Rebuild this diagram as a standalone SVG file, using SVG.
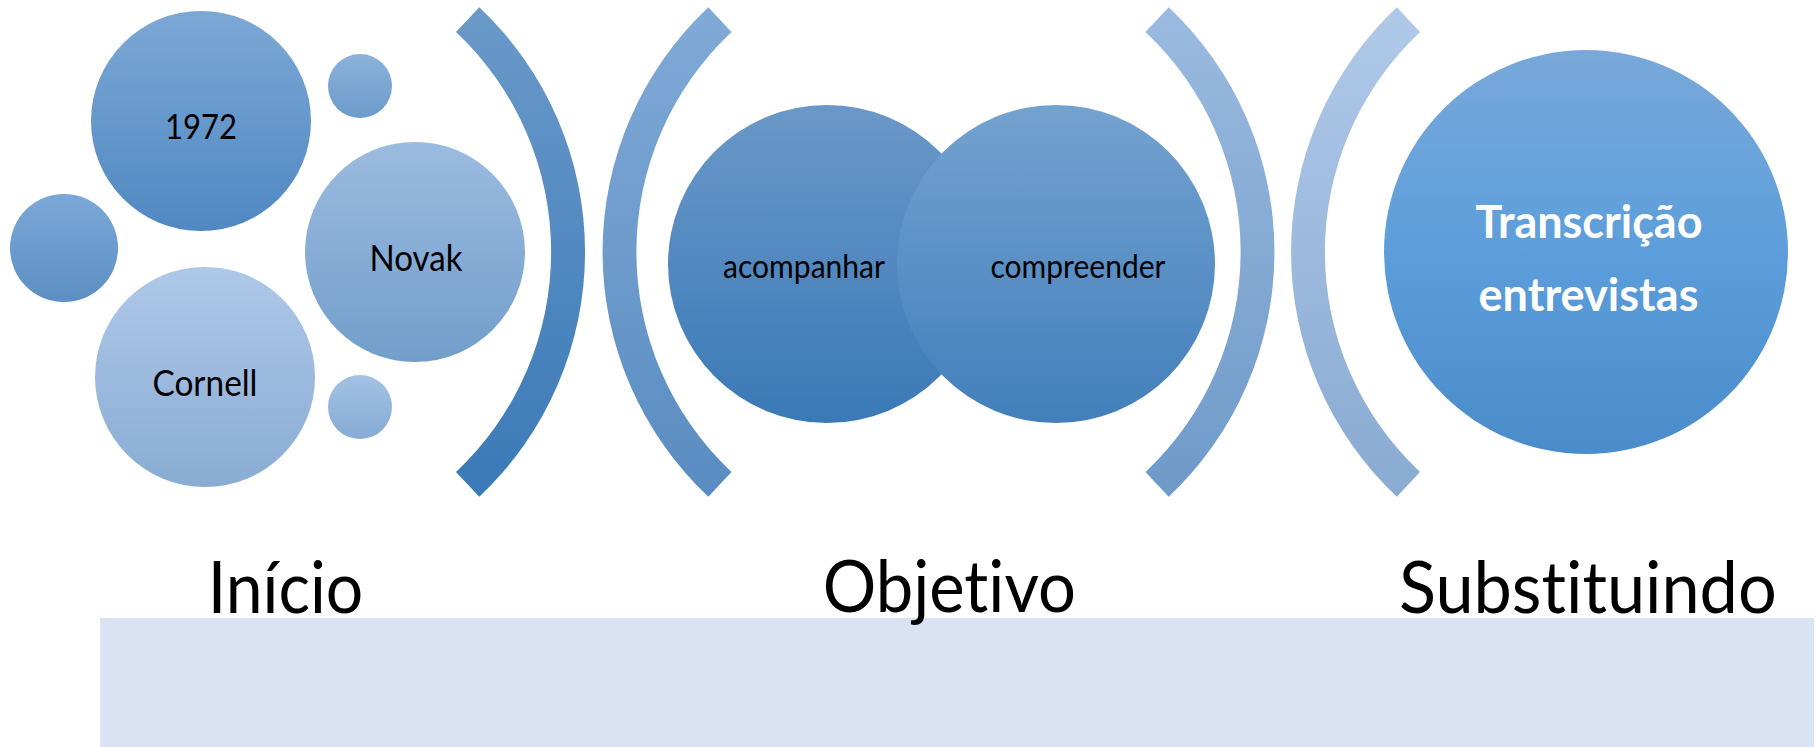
<svg xmlns="http://www.w3.org/2000/svg" width="1819" height="747" viewBox="0 0 1819 747">
<style>
text{font-variant-ligatures:none;font-feature-settings:"liga" 0,"clig" 0}
.lbl{font-family:Lato,"Liberation Sans","DejaVu Sans",sans-serif;fill:#000;text-anchor:middle}
.big{font-family:Lato,"Liberation Sans","DejaVu Sans",sans-serif;fill:#000;font-size:72px}
.wht{font-family:Lato,"Liberation Sans","DejaVu Sans",sans-serif;fill:#fff;font-weight:bold;font-size:45px;text-anchor:middle}
</style>
<defs>
<linearGradient id="g1972" x1="0" y1="0" x2="0" y2="1"><stop offset="0" stop-color="#7ca8d5"/><stop offset="1" stop-color="#5088c2"/></linearGradient>
<linearGradient id="gs1" x1="0" y1="0" x2="0" y2="1"><stop offset="0" stop-color="#8cb2da"/><stop offset="1" stop-color="#6c9bcb"/></linearGradient>
<linearGradient id="gs2" x1="0" y1="0" x2="0" y2="1"><stop offset="0" stop-color="#7ba8d8"/><stop offset="1" stop-color="#5d8fc4"/></linearGradient>
<linearGradient id="gnov" x1="0" y1="0" x2="0" y2="1"><stop offset="0" stop-color="#9cbbe0"/><stop offset="1" stop-color="#729ecb"/></linearGradient>
<linearGradient id="gcor" x1="0" y1="0" x2="0" y2="1"><stop offset="0" stop-color="#afc8e8"/><stop offset="1" stop-color="#89acd4"/></linearGradient>
<linearGradient id="gs3" x1="0" y1="0" x2="0" y2="1"><stop offset="0" stop-color="#a3c1e4"/><stop offset="1" stop-color="#86abd5"/></linearGradient>
<linearGradient id="gaco" x1="0" y1="0" x2="0" y2="1"><stop offset="0" stop-color="#6a98c8"/><stop offset="1" stop-color="#3a79b7"/></linearGradient>
<linearGradient id="gcom" x1="0" y1="0" x2="0" y2="1"><stop offset="0" stop-color="#74a2d0"/><stop offset="1" stop-color="#427fbb"/></linearGradient>
<linearGradient id="gtra" x1="0" y1="0" x2="0" y2="1"><stop offset="0" stop-color="#79a8da"/><stop offset="0.5" stop-color="#5c9edb"/><stop offset="1" stop-color="#4a8bc9"/></linearGradient>
<linearGradient id="gb1" x1="0" y1="0" x2="0" y2="1"><stop offset="0" stop-color="#6a99c9"/><stop offset="1" stop-color="#3a79b7"/></linearGradient>
<linearGradient id="gb2" x1="0" y1="0" x2="0" y2="1"><stop offset="0" stop-color="#80aad7"/><stop offset="1" stop-color="#598cc1"/></linearGradient>
<linearGradient id="gb3" x1="0" y1="0" x2="0" y2="1"><stop offset="0" stop-color="#9bbae0"/><stop offset="1" stop-color="#6e9ac8"/></linearGradient>
<linearGradient id="gb4" x1="0" y1="0" x2="0" y2="1"><stop offset="0" stop-color="#b0c9e8"/><stop offset="1" stop-color="#89aad2"/></linearGradient>
</defs>
<rect id="band" x="100" y="618" width="1714" height="129" fill="#dae3f3"/>
<g id="connectors">
<path id="bracket1" d="M 479.3 7.3 A 336 336 0 0 1 479.3 496.7 L 456 472 A 302 302 0 0 0 456 32 Z" fill="url(#gb1)"/>
<path id="bracket2" d="M 708.3 7.3 A 336 336 0 0 0 708.3 496.7 L 731.5 472 A 302 302 0 0 1 731.5 32 Z" fill="url(#gb2)"/>
<path id="bracket3" d="M 1168.7 7.3 A 336 336 0 0 1 1168.7 496.7 L 1145.5 472 A 302 302 0 0 0 1145.5 32 Z" fill="url(#gb3)"/>
<path id="bracket4" d="M 1396.8 7.3 A 336 336 0 0 0 1396.8 496.7 L 1420 472 A 302 302 0 0 1 1420 32 Z" fill="url(#gb4)"/>
</g>
<g id="n1972"><circle cx="201" cy="121" r="110" fill="url(#g1972)"/><text class="lbl" x="201" y="139" font-size="35" textLength="72" lengthAdjust="spacingAndGlyphs">1972</text></g>
<g id="small1"><circle cx="360" cy="86" r="32" fill="url(#gs1)"/></g>
<g id="small2"><circle cx="64" cy="248" r="54" fill="url(#gs2)"/></g>
<g id="novak"><circle cx="415" cy="252" r="110" fill="url(#gnov)"/><text class="lbl" x="416" y="271" font-size="36" textLength="93" lengthAdjust="spacingAndGlyphs">Novak</text></g>
<g id="cornell"><circle cx="205" cy="377" r="110" fill="url(#gcor)"/><text class="lbl" x="205" y="396" font-size="36" textLength="105" lengthAdjust="spacingAndGlyphs">Cornell</text></g>
<g id="small3"><circle cx="360" cy="407" r="32" fill="url(#gs3)"/></g>
<g id="acompanhar"><circle cx="827" cy="264" r="159" fill="url(#gaco)"/><text class="lbl" x="804" y="278" font-size="32" textLength="162" lengthAdjust="spacingAndGlyphs">acompanhar</text></g>
<g id="compreender"><circle cx="1056" cy="264" r="159" fill="url(#gcom)"/><text class="lbl" x="1078" y="278" font-size="32" textLength="175" lengthAdjust="spacingAndGlyphs">compreender</text></g>
<g id="transcricao"><circle cx="1586" cy="252" r="202" fill="url(#gtra)"/><text class="wht" x="1589" y="238" textLength="227" lengthAdjust="spacingAndGlyphs">Transcrição</text><text class="wht" x="1588.5" y="311" textLength="220" lengthAdjust="spacingAndGlyphs">entrevistas</text></g>
<g id="labels">
<text class="big" x="207.7" y="613" textLength="155.6" lengthAdjust="spacingAndGlyphs">Início</text>
<text class="big" x="822.7" y="612" textLength="253.3" lengthAdjust="spacingAndGlyphs">Objetivo</text>
<text class="big" x="1399" y="613" textLength="377.7" lengthAdjust="spacingAndGlyphs">Substituindo</text>
</g>
</svg>
